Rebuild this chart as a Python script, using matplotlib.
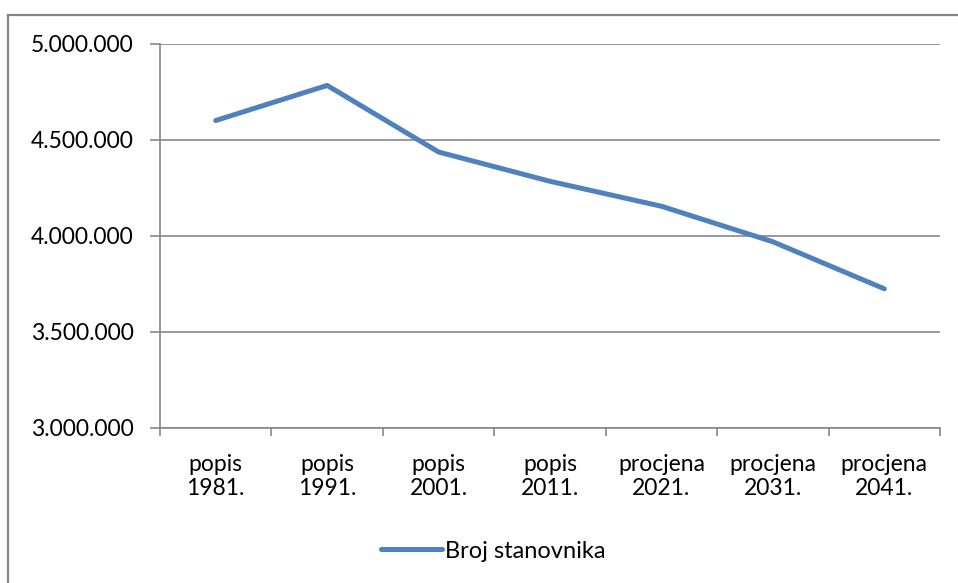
import numpy as np
import matplotlib.pyplot as plt
from matplotlib.lines import Line2D

plt.rcParams['font.family'] = ['Lato', 'DejaVu Sans']

# Data
categories = ['popis\n1981.', 'popis\n1991.', 'popis\n2001.', 'popis\n2011.',
              'procjena\n2021.', 'procjena\n2031.', 'procjena\n2041.']
population = [4601469, 4784265, 4437460, 4284889, 4155000, 3970000, 3725000]
series_name = 'Broj stanovnika'
y_ticks = [3000000, 3500000, 4000000, 4500000, 5000000]

W, H = 958, 583
grey = '#868686'
blue = '#4F81BD'

fig = plt.figure(figsize=(W / 100, H / 100), dpi=100)

# outer chart border (only left and top visible in the crop)
fig.add_artist(Line2D([8 / W, 8 / W], [0, 1 - 15 / H], color=grey, lw=1.6,
                      transform=fig.transFigure))
fig.add_artist(Line2D([8 / W, 1], [1 - 15 / H, 1 - 15 / H], color=grey, lw=1.6,
                      transform=fig.transFigure))

ax = fig.add_axes([160 / W, (H - 428) / H, 780 / W, 384 / H])
x = np.arange(len(categories))
ax.plot(x, population, color=blue, lw=3.6, solid_capstyle='round',
        solid_joinstyle='round', label=series_name)

ax.set_xlim(-0.5, len(categories) - 0.5)
ax.set_ylim(y_ticks[0], y_ticks[-1])
ax.set_yticks(y_ticks)
ax.set_yticklabels([f'{v:,}'.replace(',', '.') for v in y_ticks])
ax.set_xticks(x)
ax.set_xticklabels(categories, linespacing=1.15)
ax.set_xticks(np.arange(-0.5, len(categories)), minor=True)
ax.tick_params(axis='x', which='major', length=0, pad=19, labelsize=16.5)
ax.tick_params(axis='x', which='minor', length=6, color=grey, width=1.2)
ax.tick_params(axis='y', length=7, color=grey, width=1.2, labelsize=16.5, pad=12)

ax.grid(axis='y', color=grey, lw=1.2)
ax.set_axisbelow(True)
for s in ['top', 'right']:
    ax.spines[s].set_visible(False)
for s in ['left', 'bottom']:
    ax.spines[s].set_color(grey)
    ax.spines[s].set_linewidth(1.2)

fig.legend(loc='center', bbox_to_anchor=(493 / W, 1 - 551 / H), frameon=False,
           fontsize=17, handlelength=2.6, handletextpad=0.1)

fig.savefig('out.png', dpi=100)
